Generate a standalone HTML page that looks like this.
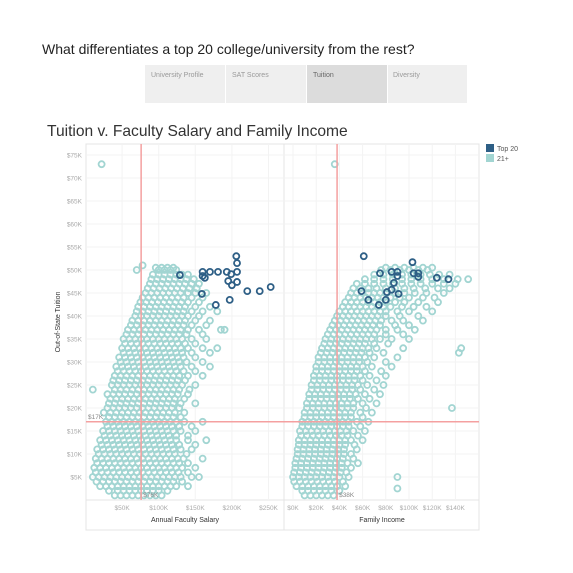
<!DOCTYPE html>
<html><head><meta charset="utf-8"><style>
body{margin:0;background:#fff;font-family:"Liberation Sans",sans-serif;}
svg{display:block}
</style></head><body>
<svg id="c" width="573" height="573" xmlns="http://www.w3.org/2000/svg">
<text x="42" y="54" font-size="14" fill="#222">What differentiates a top 20 college/university from the rest?</text>
<g>
<rect x="145" y="65" width="80" height="38" fill="#efefef"/>
<rect x="226" y="65" width="80" height="38" fill="#efefef"/>
<rect x="307" y="65" width="80" height="38" fill="#dcdcdc"/>
<rect x="388" y="65" width="79" height="38" fill="#efefef"/>
<text x="151" y="77" font-size="7" fill="#999">University Profile</text>
<text x="232" y="77" font-size="7" fill="#999">SAT Scores</text>
<text x="313" y="77" font-size="7" fill="#666">Tuition</text>
<text x="393" y="77" font-size="7" fill="#999">Diversity</text>
</g>
<text x="47" y="136" font-size="15.6" fill="#333">Tuition v. Faculty Salary and Family Income</text>
<rect x="86" y="144" width="393" height="386" fill="none" stroke="#e4e4e4"/>
<line x1="284" y1="144" x2="284" y2="530" stroke="#e4e4e4"/>
<line x1="86" y1="500" x2="479" y2="500" stroke="#e4e4e4"/>
<g id="grid"></g>
<g id="ticks"></g>
<g id="marks"></g>
<g id="refs"></g>
<text transform="translate(60,322) rotate(-90)" text-anchor="middle" font-size="7" fill="#333">Out-of-State Tuition</text>
<text x="185" y="522" text-anchor="middle" font-size="7" fill="#333">Annual Faculty Salary</text>
<text x="382" y="522" text-anchor="middle" font-size="7" fill="#333">Family Income</text>
<g>
<rect x="486" y="144" width="8" height="8" fill="#2e5f86"/>
<text x="497" y="151" font-size="7" fill="#555">Top 20</text>
<rect x="486" y="154" width="8" height="8" fill="#a2d5d2"/>
<text x="497" y="161" font-size="7" fill="#555">21+</text>
</g>
</svg>
<script>
// ---- data (thousands of $) ----
const yTicks = [5,10,15,20,25,30,35,40,45,50,55,60,65,70,75];
const salaryTicks = [50,100,150,200,250];
const incomeTicks = [0,20,40,60,80,100,120,140];
const salaryRef = 76;
const incomeRef = 38;
const tuitionRef = 17;
const leftRows = [
[1,[40,48,56,64,72,80,88,96,104]],
[3,[20,28,36,44,52,60,68,76,84,92,100,108,116,124,140]],
[5,[10,18,26,34,42,50,58,66,74,82,90,98,106,114,122,130,145,155]],
[7,[12,20,28,36,44,52,60,68,76,84,92,100,108,116,124,132,150]],
[9,[14,22,30,38,46,54,62,70,78,86,94,102,110,118,126,134,160]],
[11,[16,24,32,40,48,56,64,72,80,88,96,104,112,120,130,145]],
[13,[20,28,36,44,52,60,68,76,84,92,100,108,116,124,140,165]],
[15,[24,32,40,48,56,64,72,80,88,96,104,112,120,130,150]],
[17,[28,36,44,52,60,68,76,84,92,100,108,116,124,135,160]],
[19,[25,34,42,50,58,66,74,82,90,98,106,114,122,135]],
[21,[32,40,48,56,64,72,80,88,96,104,112,120,130,150]],
[23,[30,38,46,54,62,70,78,86,94,102,110,118,126,140]],
[25,[36,44,52,60,68,76,84,92,100,108,116,124,132,150]],
[27,[40,48,56,64,72,80,88,96,104,112,120,128,140,160]],
[29,[42,50,58,66,74,82,90,98,106,114,122,130,145,170]],
[31,[46,54,62,70,78,86,94,102,110,118,126,134,150]],
[33,[50,58,66,74,82,90,98,106,114,122,130,140,160,180]],
[35,[52,60,68,76,84,92,100,108,116,124,132,145,165]],
[37,[58,66,74,82,90,98,106,114,122,130,140,155,185]],
[39,[64,72,80,88,96,104,112,120,128,136,150,170]],
[41,[70,78,86,94,102,110,118,126,134,145,160,180]],
[43,[75,83,91,99,107,115,123,131,140,155]],
[45,[82,90,98,106,114,122,130,140,150,165]],
[47,[88,96,104,112,120,128,136,145,155]],
[49,[92,100,108,116,124,132,140]],
[50.5,[96,104,112,120]]
];
const leftRows2 = [
[2,[32,44,52,60,68,76,84,92,100,112]],
[4,[15,24,32,40,48,56,64,72,80,88,96,104,112,120,132]],
[6,[14,22,30,38,46,54,62,70,78,86,94,102,110,118,127,140]],
[8,[16,24,32,40,48,56,64,72,80,88,96,104,112,120,128,140]],
[10,[18,26,34,42,50,58,66,74,82,90,98,106,114,122,138]],
[12,[22,30,38,46,54,62,70,78,86,94,102,110,118,128,150]],
[14,[26,34,42,50,58,66,74,82,90,98,106,114,124,140]],
[16,[30,38,46,54,62,70,78,86,94,102,110,118,128,145]],
[18,[32,40,48,56,64,72,80,88,96,104,112,120,130]],
[20,[30,38,46,54,62,70,78,86,94,102,110,118,128]],
[22,[34,42,50,58,66,74,82,90,98,106,114,122,135]],
[24,[40,48,56,64,72,80,88,96,104,112,120,128,142]],
[26,[38,46,54,62,70,78,86,94,102,110,118,126,136]],
[28,[44,52,60,68,76,84,92,100,108,116,124,134,150]],
[30,[48,56,64,72,80,88,96,104,112,120,128,138,160]],
[32,[52,60,68,76,84,92,100,108,116,124,132,145,170]],
[34,[54,62,70,78,86,94,102,110,118,126,136,150]],
[36,[56,64,72,80,88,96,104,112,120,128,138,160]],
[38,[62,70,78,86,94,102,110,118,126,134,145,165]],
[40,[68,76,84,92,100,108,116,124,132,140,155]],
[42,[72,80,88,96,104,112,120,128,136,150,170]],
[44,[78,86,94,102,110,118,126,134,145,160]],
[46,[85,93,101,109,117,125,133,142,152]],
[48,[90,98,106,114,122,130,138,148]],
[50,[100,108,116,124]]
];
const leftOutliers = [[22,73],[78,51],[70,50],[190,37],[10,24]];
const leftTop20 = [[129,48.9],[160,49.6],[163,48.3],[170,49.6],[181,49.6],[193,49.6],[199,49.1],[207,49.6],[195,47.6],[200,46.7],[207,47.4],[206,53.0],[207,51.5],[159,44.8],[178,42.4],[197,43.5],[221,45.4],[238,45.4],[253,46.3],[160,48.7]];
const rightRows = [
[1,[10,15,20,25,30,35]],
[3,[3,8,13,18,23,28,33,38,45]],
[5,[0,5,10,15,20,25,30,35,40,48]],
[7,[2,7,12,17,22,27,32,37,42,50]],
[9,[3,8,13,18,23,28,33,38,43,52]],
[11,[4,9,14,19,24,29,34,39,44,55]],
[13,[5,10,15,20,25,30,35,40,45,50,60]],
[15,[6,11,16,21,26,31,36,41,46,52,62]],
[17,[8,13,18,23,28,33,38,43,48,55,65]],
[19,[10,15,20,25,30,35,40,45,50,58,68]],
[21,[12,17,22,27,32,37,42,47,52,60,72]],
[23,[14,19,24,29,34,39,44,49,54,62,75]],
[25,[16,21,26,31,36,41,46,51,56,64,78]],
[27,[18,23,28,33,38,43,48,53,58,66,80]],
[29,[20,25,30,35,40,45,50,55,60,68,85]],
[31,[22,27,32,37,42,47,52,57,62,70,90]],
[33,[25,30,35,40,45,50,55,60,65,72,95]],
[35,[28,33,38,43,48,53,58,63,68,75,85,100]],
[37,[32,37,42,47,52,57,62,67,72,80,90,105]],
[39,[36,41,46,51,56,61,66,71,76,85,95,112]],
[41,[40,45,50,55,60,65,70,75,80,90,100,120]],
[43,[45,50,55,60,65,70,75,80,88,96,108,125]],
[45,[50,55,60,65,70,75,80,88,96,105,115,130]],
[47,[55,62,70,78,86,94,102,110,120,130,140]],
[49,[70,78,86,94,102,110,118,126,135]],
[50.5,[80,88,96,104,112,120]]
];
const rightRows2 = [
[2,[8,13,18,23,28,33,40]],
[4,[1,6,11,16,21,26,31,36,43]],
[6,[1,6,11,16,21,26,31,36,41,46]],
[8,[2,7,12,17,22,27,32,37,42,47,56]],
[10,[4,9,14,19,24,29,34,39,44,50]],
[12,[5,10,15,20,25,30,35,40,45,53]],
[14,[7,12,17,22,27,32,37,42,47,56]],
[16,[8,13,18,23,28,33,38,43,48,58]],
[18,[10,15,20,25,30,35,40,45,50,60]],
[20,[12,17,22,27,32,37,42,47,52,63]],
[22,[14,19,24,29,34,39,44,49,56,66]],
[24,[16,21,26,31,36,41,46,51,58,70]],
[26,[18,23,28,33,38,43,48,53,60,72]],
[28,[20,25,30,35,40,45,50,55,62,76]],
[30,[22,27,32,37,42,47,52,57,64,80]],
[32,[24,29,34,39,44,49,54,59,66,78]],
[34,[27,32,37,42,47,52,57,62,70,82]],
[36,[30,35,40,45,50,55,60,65,70,80,95]],
[38,[34,39,44,49,54,59,64,69,75,88,100]],
[40,[38,43,48,53,58,63,68,73,80,92,108]],
[42,[43,48,53,58,63,68,73,78,84,94,104,115]],
[44,[48,53,58,63,68,73,78,84,92,100,112,122]],
[46,[52,58,65,72,80,88,96,104,114,125,135]],
[48,[62,70,78,86,94,102,110,120,130,142]],
[50,[76,84,92,100,108,116]]
];
const rightOutliers = [[36,73],[151,48],[145,33],[143,32],[137,20],[90,5],[90,2.5]];
const rightTop20 = [[61,53.0],[75,49.3],[85,49.6],[90,49.6],[90,48.7],[87,47.2],[85,45.7],[81,45.2],[80,43.5],[91,44.8],[103,51.7],[104,49.3],[108,49.3],[108,48.5],[124,48.3],[134,48.0],[59,45.4],[65,43.5],[74,42.4]];

// ---- scales ----
const NS="http://www.w3.org/2000/svg";
function yS(v){return 500 - v*4.6;}
function xL(v){return 85.5 + v*0.732;}
function xR(v){return 293 + v*1.16;}
function mk(tag,attrs,parent){const e=document.createElementNS(NS,tag);for(const k in attrs)e.setAttribute(k,attrs[k]);parent.appendChild(e);return e;}
const grid=document.getElementById('grid'),ticks=document.getElementById('ticks'),marks=document.getElementById('marks'),refs=document.getElementById('refs');

yTicks.forEach(v=>{
  const g=mk('line',{x1:86,x2:479,y1:yS(v),y2:yS(v),stroke:'#f3f3f3'},grid);
  
  
  const t=mk('text',{x:82,y:yS(v)+2.5,'text-anchor':'end','font-size':6.5,fill:'#aaa'},ticks);
  t.textContent='$'+v+'K';
  
  
});
salaryTicks.forEach(v=>{
  const g=mk('line',{x1:xL(v),x2:xL(v),y1:144,y2:500,stroke:'#f3f3f3'},grid);
  
  
  const t=mk('text',{x:xL(v),y:510,'text-anchor':'middle','font-size':6.5,fill:'#aaa'},ticks);
  t.textContent='$'+v+'K';
  
  
});
incomeTicks.forEach(v=>{
  const g=mk('line',{x1:xR(v),x2:xR(v),y1:144,y2:500,stroke:'#f3f3f3'},grid);
  
  
  const t=mk('text',{x:xR(v),y:510,'text-anchor':'middle','font-size':6.5,fill:'#aaa'},ticks);
  t.textContent='$'+v+'K';
  
  
});

function dot(cx,cy,color,name){
  const c=mk('circle',{cx:cx,cy:cy,r:3,fill:'none',stroke:color,'stroke-width':1.8},marks);
  
  
}
const LIGHT='#a2d5d2',DARK='#2e5f86';
leftRows.concat(leftRows2).forEach(r=>r[1].forEach(s=>dot(xL(s),yS(r[0]),LIGHT,'salary-point-21plus')));
leftOutliers.forEach(p=>dot(xL(p[0]),yS(p[1]),LIGHT,'salary-point-21plus'));
rightRows.concat(rightRows2).forEach(r=>r[1].forEach(s=>dot(xR(s),yS(r[0]),LIGHT,'income-point-21plus')));
rightOutliers.forEach(p=>dot(xR(p[0]),yS(p[1]),LIGHT,'income-point-21plus'));
leftTop20.forEach(p=>dot(xL(p[0]),yS(p[1]),DARK,'salary-point-top20'));
rightTop20.forEach(p=>dot(xR(p[0]),yS(p[1]),DARK,'income-point-top20'));

const RED='#f4a0a0';
let e;
e=mk('line',{x1:86,x2:479,y1:yS(tuitionRef),y2:yS(tuitionRef),stroke:RED,'stroke-width':1.5},refs);


e=mk('line',{x1:xL(salaryRef),x2:xL(salaryRef),y1:144,y2:500,stroke:RED,'stroke-width':1.5},refs);


e=mk('line',{x1:xR(incomeRef),x2:xR(incomeRef),y1:144,y2:500,stroke:RED,'stroke-width':1.5},refs);


e=mk('text',{x:88,y:yS(tuitionRef)-3,'font-size':6.5,fill:'#888'},refs);
e.textContent='$'+tuitionRef+'K';


e=mk('text',{x:xL(salaryRef)+2,y:497,'font-size':6.5,fill:'#888'},refs);
e.textContent='$'+salaryRef+'K';


e=mk('text',{x:xR(incomeRef)+2,y:497,'font-size':6.5,fill:'#888'},refs);
e.textContent='$'+incomeRef+'K';


</script>
</body></html>
